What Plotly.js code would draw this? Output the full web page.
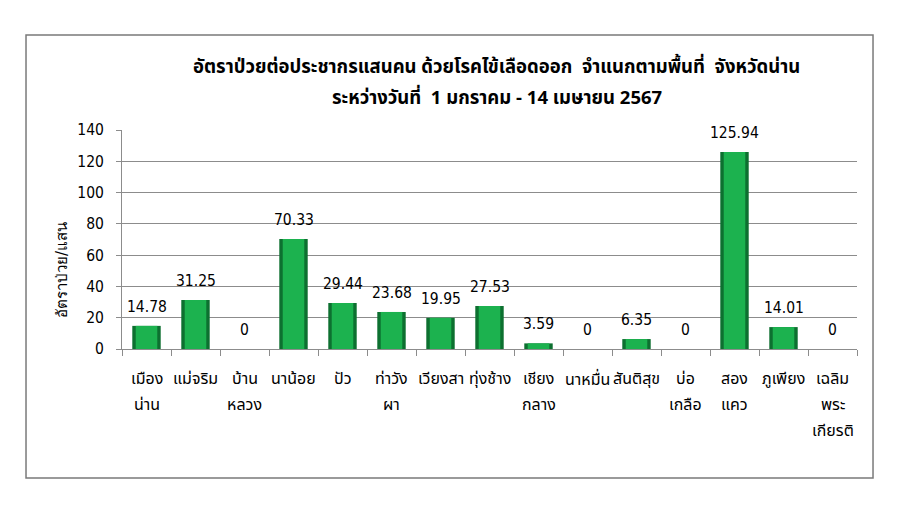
<!DOCTYPE html>
<html>
<head>
<meta charset="utf-8">
<script src="https://cdn.plot.ly/plotly-3.0.1.min.js"></script>
<style>html,body{margin:0;padding:0;background:#fff;}#chart{width:900px;height:518px;}</style>
</head>
<body>
<div id="chart"></div>
<script>
const districts = ["เมือง<br>น่าน","แม่จริม","บ้าน<br>หลวง","นาน้อย","ปัว","ท่าวัง<br>ผา","เวียงสา","ทุ่งช้าง","เชียง<br>กลาง","นาหมื่น","สันติสุข","บ่อ<br>เกลือ","สอง<br>แคว","ภูเพียง","เฉลิม<br>พระ<br>เกียรติ"];
const rates = [14.78, 31.25, 0, 70.33, 29.44, 23.68, 19.95, 27.53, 3.59, 0, 6.35, 0, 125.94, 14.01, 0];
const rateLabels = ["14.78","31.25","0","70.33","29.44","23.68","19.95","27.53","3.59","0","6.35","0","125.94","14.01","0"];
const yTicks = [0, 20, 40, 60, 80, 100, 120, 140];
const titleLines = ["อัตราป่วยต่อประชากรแสนคน ด้วยโรคไข้เลือดออก  จำแนกตามพื้นที่  จังหวัดน่าน", "ระหว่างวันที่  1 มกราคม - 14 เมษายน 2567"];
const yTitle = "อัตราป่วย/แสน";

const numFont = {family: "Tahoma, 'DejaVu Sans Condensed', sans-serif", size: 15.5, color: "#000"};
const catFont = {family: "Tahoma, 'DejaVu Sans', 'Noto Sans Thai', sans-serif", size: 16, color: "#000"};
const titleFont = {family: "'Noto Sans Thai', 'DejaVu Sans Condensed', sans-serif", size: 18.5, color: "#000", weight: "bold"};

const traces = [
  {type: "bar", x: districts, y: rates, width: 0.58,
   marker: {color: "#0d7030", line: {width: 0}}, hoverinfo: "skip"},
  {type: "bar", x: districts, y: rates, width: 0.44,
   marker: {color: "#1cb24f", line: {width: 0}}, hoverinfo: "skip"}
];

const annotations = [];
// value labels above bars
districts.forEach((d, i) => {
  annotations.push({text: rateLabels[i], x: d, y: rates[i], xref: "x", yref: "y",
    xanchor: "center", yanchor: "bottom", yshift: 8, showarrow: false, font: numFont});
});
// category labels, one annotation per line
districts.forEach((d) => {
  d.split("<br>").forEach((line, j) => {
    annotations.push({text: line, x: d, y: 0, xref: "x", yref: "paper",
      xanchor: "center", yanchor: "middle", yshift: -29 - 26 * j, showarrow: false, font: catFont});
  });
});
annotations.push(
  {text: titleLines[0], xref: "paper", yref: "paper", x: 0.51, y: 1.288, xanchor: "center", yanchor: "middle", showarrow: false, font: titleFont},
  {text: titleLines[1], xref: "paper", yref: "paper", x: 0.51, y: 1.146, xanchor: "center", yanchor: "middle", showarrow: false, font: titleFont},
  {text: yTitle, textangle: -90, xref: "paper", yref: "paper",
    x: -0.082, y: 0.36, xanchor: "center", yanchor: "middle", showarrow: false,
    font: {family: "Tahoma, 'DejaVu Sans', sans-serif", size: 15, color: "#000"}}
);

const layout = {
  width: 900, height: 518,
  paper_bgcolor: "#fff", plot_bgcolor: "#fff",
  margin: {l: 122, r: 43, t: 130, b: 169},
  barmode: "overlay", showlegend: false,
  xaxis: {type: "category", showticklabels: false, showgrid: false,
    showline: true, linecolor: "#8c8c8c", linewidth: 1,
    ticks: "outside", tickson: "boundaries", ticklen: 6, tickcolor: "#8c8c8c", automargin: false},
  yaxis: {range: [0, 140], tickvals: yTicks, tickfont: numFont, ticklabelstandoff: 9,
    showgrid: true, gridcolor: "#8c8c8c", gridwidth: 1,
    showline: true, linecolor: "#8c8c8c", linewidth: 1,
    ticks: "outside", ticklen: 5, tickcolor: "#8c8c8c", zeroline: false, automargin: false},
  annotations: annotations,
  shapes: [{type: "rect", xref: "paper", yref: "paper",
    x0: -0.1306, x1: 1.0218, y0: -0.589, y1: 1.4338,
    line: {color: "#7a7a7a", width: 1.5}, fillcolor: "rgba(0,0,0,0)", layer: "below"}]
};

Plotly.newPlot("chart", traces, layout, {staticPlot: true, displayModeBar: false});
</script>
</body>
</html>
